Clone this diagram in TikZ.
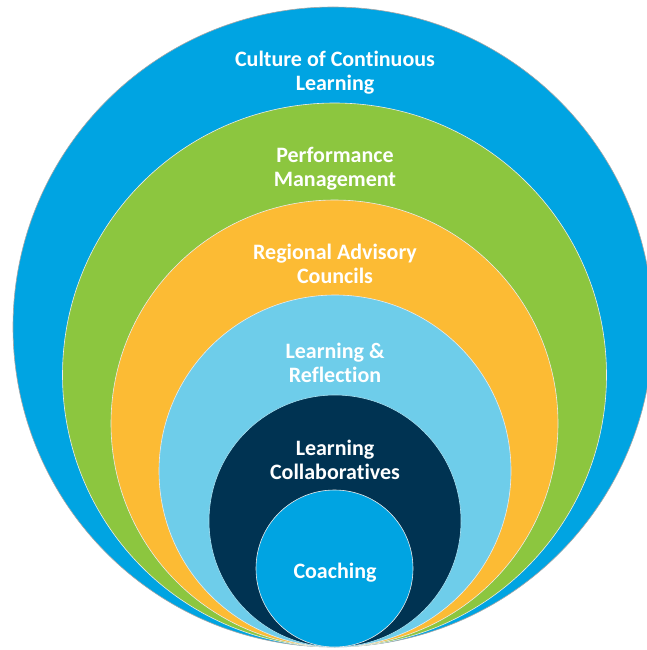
\documentclass[tikz,border=0pt]{standalone}
\usepackage{fontspec}
\setmainfont[Ligatures=NoCommon]{Carlito}
\definecolor{outerblue}{RGB}{0,164,226}
\definecolor{pmgreen}{RGB}{140,198,63}
\definecolor{racyellow}{RGB}{252,187,52}
\definecolor{lightblue}{RGB}{110,205,234}
\definecolor{navy}{RGB}{0,51,82}
\begin{document}
\begin{tikzpicture}[x=1pt,y=1pt,
  ring/.style={circle, inner sep=0pt, draw=white!92!black, line width=0.6pt},
  lbl/.style={text=white, font=\fontsize{22}{24}\selectfont\bfseries, align=center, inner sep=0pt}]
\useasboundingbox (0,0) rectangle (647,-650);
\begin{scope}
\clip (0,0) rectangle (647,-650);
\node[ring, draw=gray!70, fill=outerblue, minimum size=640pt] (culture) at (333,-327) {};
\node[ring, fill=pmgreen, minimum size=544pt] (perf) at (334.5,-375) {};
\node[ring, fill=racyellow, minimum size=447pt] (rac) at (334.5,-423.5) {};
\node[ring, fill=lightblue, minimum size=352pt] (refl) at (335,-471) {};
\node[ring, draw=lightblue!60!white, fill=navy, minimum size=252pt] (collab) at (335,-521) {};
\node[ring, fill=outerblue, minimum size=157pt] (coach) at (334.5,-568.5) {};
\end{scope}
\node[lbl] (t1) at (335,-73) {Culture of Continuous\\Learning};
\node[lbl] (t2) at (335,-169) {Performance\\Management};
\node[lbl] (t3) at (335,-264) {Regional Advisory\\Councils};
\node[lbl] (t4) at (335,-363) {Learning \&\\Reflection};
\node[lbl] (t5) at (335,-460) {Learning\\Collaboratives};
\node[lbl] (t6) at (335,-573) {Coaching};
\end{tikzpicture}
\end{document}
